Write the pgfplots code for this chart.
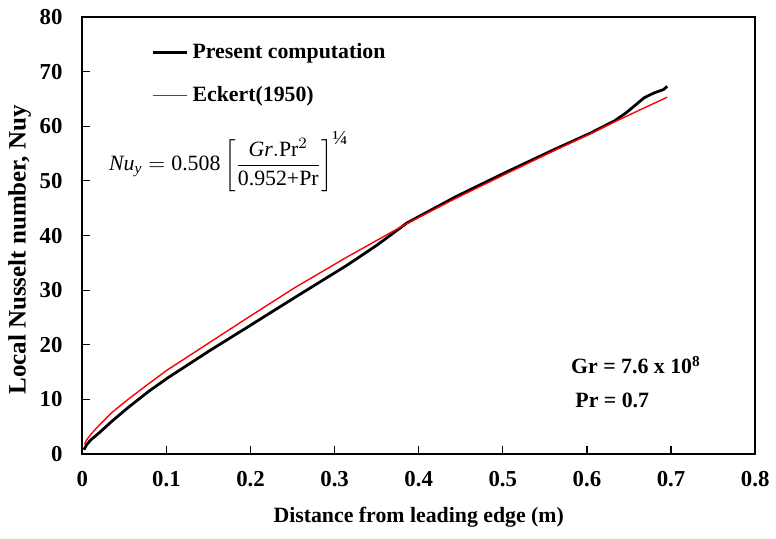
\documentclass[border=0pt]{standalone}
\usepackage{fontspec}
\setmainfont{Liberation Serif}
\usepackage{amsmath}
\usepackage{pgfplots}
\pgfplotsset{compat=1.18}
\begin{document}
\begin{tikzpicture}
\begin{axis}[
  scale only axis, width=339.25pt, height=220.5pt,
  at={(0,0)}, anchor=south west,
  xmin=0, xmax=0.8, ymin=0, ymax=80,
  xtick={0,0.1,0.2,0.3,0.4,0.5,0.6,0.7,0.8},
  xticklabels={0,0.1,0.2,0.3,0.4,0.5,0.6,0.7,0.8},
  ytick={0,10,20,30,40,50,60,70,80},
  /pgf/number format/assume math mode=true,
  tick label style={font=\bfseries\fontsize{11.5}{13}\selectfont},
  xticklabel style={yshift=-5pt},
  yticklabel style={xshift=-6.5pt},
  tick align=inside,
  xtick pos=lower, ytick pos=left,
  major tick length=4pt,
  tick style={black, line width=0.6pt},
  axis line style={line width=1pt},
  xlabel={Distance from leading edge (m)},
  ylabel={Local Nusselt number, Nuy},
  xlabel style={font=\bfseries\fontsize{11}{13}\selectfont, at={(axis description cs:0.5,0)}, anchor=center, yshift=-32pt},
  ylabel style={font=\bfseries\fontsize{12.6}{14}\selectfont, at={(axis description cs:-0.093,0.467)}, anchor=center},
  legend image code/.code={\draw[#1] (0pt,0pt) -- (17.5pt,0pt);},
  legend style={at={(axis description cs:0.1017,0.945)}, anchor=north west,
    draw=none, fill=none, inner sep=0pt, row sep=10.5pt,
    font=\bfseries\fontsize{11}{13}\selectfont,
    nodes={inner xsep=2pt, inner ysep=1pt}},
  legend cell align=left,
]
\addplot[black, line width=1.4pt] coordinates {
(0.002,0.8) (0.005,1.7) (0.010,2.6) (0.020,3.9) (0.035,6.0) (0.055,8.6)
(0.079,11.5) (0.101,13.9) (0.151,18.9) (0.197,23.3) (0.252,28.6) (0.314,34.5)
(0.350,38.2) (0.386,42.3) (0.444,47.1) (0.504,51.6) (0.562,55.8) (0.605,58.8)
(0.633,61.0) (0.647,62.5) (0.668,65.2) (0.680,66.1) (0.691,66.7) (0.6955,67.3)
};
\addlegendentry{Present computation}
\addplot[red, line width=0.7pt] coordinates {
(0.0025,1.8) (0.005,2.6) (0.010,3.6) (0.020,5.3) (0.035,7.6) (0.055,10.1)
(0.079,12.9) (0.101,15.4) (0.151,20.4) (0.197,25.0) (0.252,30.4) (0.314,36.0)
(0.350,39.1) (0.386,42.2) (0.444,46.8) (0.504,51.3) (0.562,55.6) (0.605,58.7)
(0.633,60.8) (0.655,62.4) (0.680,64.2) (0.6955,65.3)
};
\addlegendentry{Eckert(1950)}
\node[anchor=west, font=\fontsize{11}{13}\selectfont] at (axis cs:0.0236,53.6)
  {$\displaystyle \textit{Nu}_{\textit{y}} = \text{0.508}\left[\frac{\textit{Gr}.\text{Pr}^{2}}{\text{0.952+Pr}}\right]^{\mbox{\fontsize{10}{10}\selectfont ¼}}$};
\node[anchor=west, font=\bfseries\fontsize{11}{13}\selectfont] at (axis cs:0.573,16.3)
  {Gr = 7.6 x 10\textsuperscript{8}};
\node[anchor=west, font=\bfseries\fontsize{11}{13}\selectfont] at (axis cs:0.578,9.8)
  {Pr = 0.7};
\end{axis}
\path (-41.5pt,-42.5pt) rectangle (346.5pt,229pt);
\end{tikzpicture}
\end{document}
